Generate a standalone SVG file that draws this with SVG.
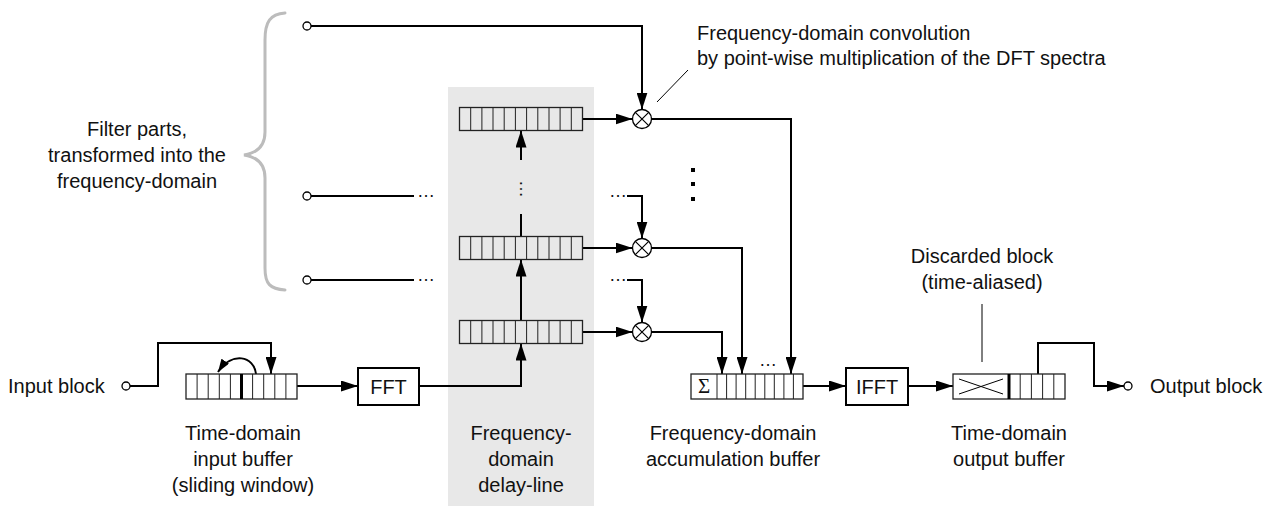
<svg xmlns="http://www.w3.org/2000/svg" width="1267" height="506" viewBox="0 0 1267 506">
  <defs>
    <marker id="ah" viewBox="0 0 17 11" refX="17" refY="5.5" markerWidth="17" markerHeight="11" orient="auto" markerUnits="userSpaceOnUse">
      <path d="M0,0 L17,5.5 L0,11 z" fill="#000"/>
    </marker>
    <marker id="ah-small" viewBox="0 0 13 9" refX="13" refY="4.5" markerWidth="13" markerHeight="9" orient="auto" markerUnits="userSpaceOnUse">
      <path d="M0,0 L13,4.5 L0,9 z" fill="#000"/>
    </marker>
    <style>
      text { font-family: "Liberation Sans", Arial, sans-serif; font-size: 20px; fill: #111; }
      .mid { text-anchor: middle; }
      .dots { font-size: 18px; }
      .wire { fill: none; stroke: #000; stroke-width: 2; }
      .arrow { fill: none; stroke: #000; stroke-width: 2; marker-end: url(#ah); }
      .thin { fill: none; stroke: #000; stroke-width: 1; }
      .buf { fill: #fff; stroke: #222; stroke-width: 1.3; }
      .dbuf { fill: none; stroke: #222; stroke-width: 1.3; }
      .cells { fill: none; stroke: #222; stroke-width: 1; }
      .thick { stroke: #000; stroke-width: 3; }
      .box { fill: #fff; stroke: #000; stroke-width: 2; }
      .term { fill: #fff; stroke: #000; stroke-width: 1.3; }
      .mult circle { fill: #fff; stroke: #000; stroke-width: 1.3; }
      .mult path { stroke: #000; stroke-width: 1.2; fill: none; }
    </style>
  </defs>

  <rect width="1267" height="506" fill="#fff"/>

  <!-- shaded delay-line area -->
  <rect id="delay-line-panel" x="448" y="87" width="146" height="419" fill="#e8e8e8"/>

  <!-- brace grouping the filter parts -->
  <g id="filter-brace">
    <path d="M285,13 C270,14 265,22 265,40 L265,132 C265,146 257,153 244,155 C257,157 265,164 265,178 L265,268 C265,284 270,289 285,290" fill="none" stroke="#bcbcbc" stroke-width="3" stroke-linecap="round"/>
    <text class="mid" x="137" y="136">Filter parts,</text>
    <text class="mid" x="137" y="162">transformed into the</text>
    <text class="mid" x="137" y="188">frequency-domain</text>
  </g>

  <!-- connectors -->
  <g id="connectors">
    <!-- input side -->
    <polyline class="arrow" points="130,386 158,386 158,343 271,343 271,374"/>
    <path d="M256,374 C254,356 232,351 218,372" fill="none" stroke="#000" stroke-width="2" marker-end="url(#ah-small)"/>
    <line class="arrow" x1="297" y1="386" x2="358" y2="386"/>
    <polyline class="arrow" points="419,386 521,386 521,343.5"/>

    <!-- delay line -->
    <line class="arrow" x1="521" y1="320.5" x2="521" y2="259.5"/>
    <line class="wire" x1="521" y1="236.5" x2="521" y2="214"/>
    <line class="arrow" x1="521" y1="160" x2="521" y2="130.5"/>

    <!-- buffers to multipliers -->
    <line class="arrow" x1="582.5" y1="119" x2="632.5" y2="119"/>
    <line class="arrow" x1="582.5" y1="248" x2="632.5" y2="248"/>
    <line class="arrow" x1="582.5" y1="332" x2="632.5" y2="332"/>

    <!-- filter parts to multipliers -->
    <polyline class="arrow" points="311,26 642,26 642,109.5"/>
    <line class="wire" x1="311" y1="196" x2="414" y2="196"/>
    <line class="wire" x1="311" y1="280" x2="414" y2="280"/>
    <polyline class="arrow" points="627,196 642,196 642,238.5"/>
    <polyline class="arrow" points="627,280 642,280 642,322.5"/>

    <!-- multipliers to accumulation buffer -->
    <polyline class="arrow" points="651.5,119 791,119 791,374"/>
    <polyline class="arrow" points="651.5,248 742,248 742,374"/>
    <polyline class="arrow" points="651.5,332 722,332 722,374"/>

    <!-- output side -->
    <line class="arrow" x1="803" y1="386" x2="846" y2="386"/>
    <line class="arrow" x1="908" y1="386" x2="953" y2="386"/>
    <polyline class="arrow" points="1038,374 1038,343 1094,343 1094,386 1124,386"/>

    <!-- annotation leaders -->
    <line class="thin" x1="657" y1="102" x2="688" y2="70"/>
    <line class="thin" x1="982" y1="304" x2="982" y2="362"/>
  </g>

  <!-- continuation dots -->
  <g id="ellipses">
    <text class="dots" x="417" y="197">…</text>
    <text class="dots" x="417" y="281">…</text>
    <text class="dots" x="609" y="197">…</text>
    <text class="dots" x="609" y="281">…</text>
    <text class="dots" x="759" y="366">…</text>
    <text class="dots" transform="translate(519.5,180) rotate(90)" x="0" y="0">…</text>
    <rect x="691" y="168" width="4" height="4" fill="#000"/>
    <rect x="691" y="182" width="4" height="4" fill="#000"/>
    <rect x="691" y="197" width="4" height="4" fill="#000"/>
  </g>

  <!-- terminals -->
  <g id="input-terminal">
    <circle class="term" cx="126" cy="386" r="4"/>
    <text x="8" y="393">Input block</text>
  </g>
  <g id="filter-part-1"><circle class="term" cx="307" cy="26" r="4"/></g>
  <g id="filter-part-2"><circle class="term" cx="307" cy="196" r="4"/></g>
  <g id="filter-part-n"><circle class="term" cx="307" cy="280" r="4"/></g>
  <g id="output-terminal">
    <circle class="term" cx="1128" cy="386" r="4"/>
    <text x="1150" y="393">Output block</text>
  </g>

  <!-- time-domain input buffer -->
  <g id="input-buffer">
    <rect class="buf" x="186" y="374" width="111" height="25"/>
    <path class="cells" d="M197.1,374v25M208.2,374v25M219.3,374v25M230.4,374v25M252.6,374v25M263.7,374v25M274.8,374v25M285.9,374v25"/>
    <line class="thick" x1="241.5" y1="374" x2="241.5" y2="399"/>
    <text class="mid" x="243" y="440">Time-domain</text>
    <text class="mid" x="243" y="466">input buffer</text>
    <text class="mid" x="243" y="492">(sliding window)</text>
  </g>

  <g id="fft">
    <rect class="box" x="358" y="368" width="61" height="37"/>
    <text class="mid" x="388.5" y="393.5">FFT</text>
  </g>

  <!-- frequency-domain delay-line buffers -->
  <g id="delay-buffer-1">
    <rect class="dbuf" x="459.5" y="107.5" width="123" height="23"/>
    <path class="cells" d="M470.7,107.5v23M481.9,107.5v23M493,107.5v23M504.2,107.5v23M515.4,107.5v23M526.6,107.5v23M537.8,107.5v23M549,107.5v23M560.1,107.5v23M571.3,107.5v23"/>
  </g>
  <g id="delay-buffer-2">
    <rect class="dbuf" x="459.5" y="236.5" width="123" height="23"/>
    <path class="cells" d="M470.7,236.5v23M481.9,236.5v23M493,236.5v23M504.2,236.5v23M515.4,236.5v23M526.6,236.5v23M537.8,236.5v23M549,236.5v23M560.1,236.5v23M571.3,236.5v23"/>
  </g>
  <g id="delay-buffer-3">
    <rect class="dbuf" x="459.5" y="320.5" width="123" height="23"/>
    <path class="cells" d="M470.7,320.5v23M481.9,320.5v23M493,320.5v23M504.2,320.5v23M515.4,320.5v23M526.6,320.5v23M537.8,320.5v23M549,320.5v23M560.1,320.5v23M571.3,320.5v23"/>
  </g>
  <g id="delay-line-label">
    <text class="mid" x="521" y="440">Frequency-</text>
    <text class="mid" x="521" y="466">domain</text>
    <text class="mid" x="521" y="492">delay-line</text>
  </g>

  <!-- point-wise multipliers -->
  <g id="mult-1" class="mult">
    <circle cx="642" cy="119" r="9.5"/>
    <path d="M635.3,112.3L648.7,125.7M648.7,112.3L635.3,125.7"/>
  </g>
  <g id="mult-2" class="mult">
    <circle cx="642" cy="248" r="9.5"/>
    <path d="M635.3,241.3L648.7,254.7M648.7,241.3L635.3,254.7"/>
  </g>
  <g id="mult-3" class="mult">
    <circle cx="642" cy="332" r="9.5"/>
    <path d="M635.3,325.3L648.7,338.7M648.7,325.3L635.3,338.7"/>
  </g>
  <g id="convolution-note">
    <text x="697" y="40">Frequency-domain convolution</text>
    <text x="697" y="65">by point-wise multiplication of the DFT spectra</text>
  </g>

  <!-- frequency-domain accumulation buffer -->
  <g id="accumulator">
    <rect class="buf" x="691" y="374" width="112" height="25"/>
    <path class="cells" d="M717,374v25M726.6,374v25M736.1,374v25M745.7,374v25M755.2,374v25M764.8,374v25M774.3,374v25M783.9,374v25M793.4,374v25"/>
    <text class="mid" x="704" y="393" style="font-family:'Liberation Serif','Times New Roman',serif;font-size:21px">Σ</text>
    <text class="mid" x="733" y="440">Frequency-domain</text>
    <text class="mid" x="733" y="466">accumulation buffer</text>
  </g>

  <g id="ifft">
    <rect class="box" x="846" y="368" width="62" height="37"/>
    <text class="mid" x="877" y="393.5">IFFT</text>
  </g>

  <!-- time-domain output buffer -->
  <g id="output-buffer">
    <rect class="buf" x="953" y="374" width="112" height="25"/>
    <path class="thin" d="M959,379L1003,394M959,394L1003,379"/>
    <path class="cells" d="M1020.2,374v25M1031.4,374v25M1042.6,374v25M1053.8,374v25"/>
    <line class="thick" x1="1009" y1="374" x2="1009" y2="399"/>
    <text class="mid" x="1009" y="440">Time-domain</text>
    <text class="mid" x="1009" y="466">output buffer</text>
  </g>
  <g id="discard-note">
    <text class="mid" x="982" y="263">Discarded block</text>
    <text class="mid" x="982" y="289">(time-aliased)</text>
  </g>
</svg>
